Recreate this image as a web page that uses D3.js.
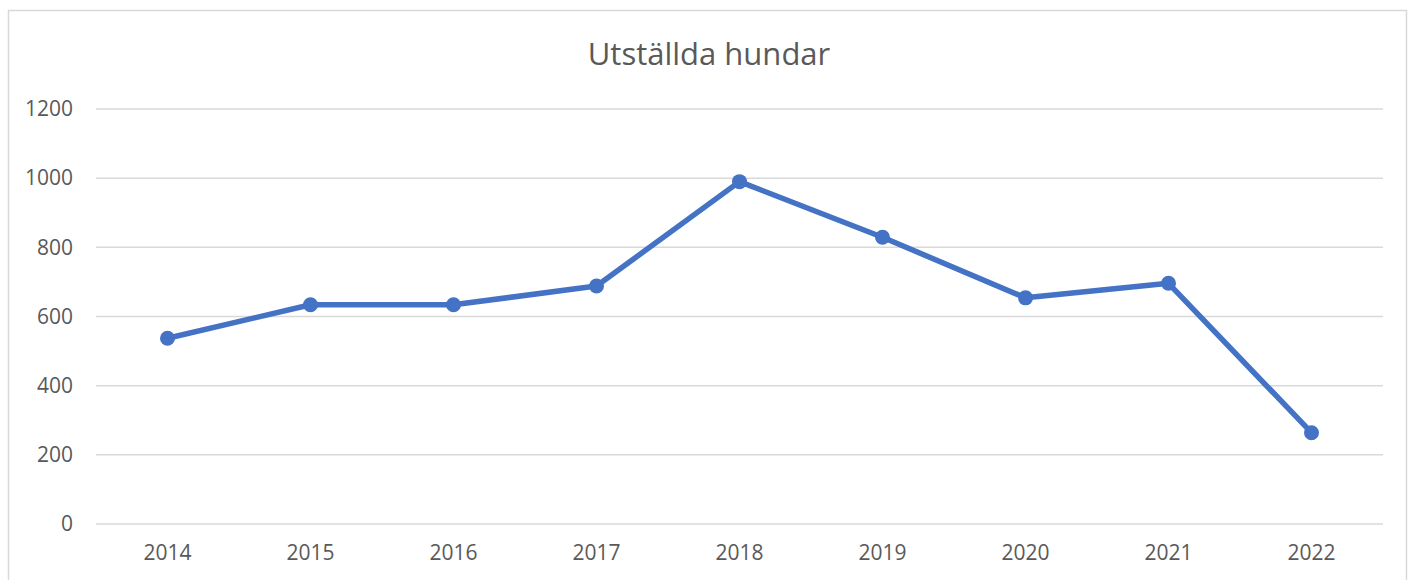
<!DOCTYPE html>
<html>
<head>
<meta charset="utf-8">
<script src="https://cdn.jsdelivr.net/npm/d3@7"></script>
<style>
  body { margin: 0; background: #fff; }
  text { font-family: "Open Sans", "Noto Sans", sans-serif; fill: #595959; }
</style>
</head>
<body>
<script>
// data
const years = ["2014", "2015", "2016", "2017", "2018", "2019", "2020", "2021", "2022"];
const dogs = [537, 634, 634, 688, 990, 829, 654, 696, 264];
const yTicks = [0, 200, 400, 600, 800, 1000, 1200];
const chartTitle = "Utställda hundar";

let margin = null, width = null, height = null;
let svg = null;
let x, y = null;

setupCanvasSize();
appendSvg("body");
setupScales();
appendGrid();
appendAxes();
appendLine();
appendTitle();

function setupCanvasSize() {
  margin = {top: 109, left: 96, bottom: 56, right: 29};
  width = 1412 - margin.left - margin.right;
  height = 580 - margin.top - margin.bottom;
}

function appendSvg(domElement) {
  const root = d3.select(domElement).append("svg")
    .attr("width", 1412)
    .attr("height", 580);
  // chart frame
  root.append("rect")
    .attr("x", 8.5).attr("y", 10.5)
    .attr("width", 1398).attr("height", 600)
    .attr("fill", "#fff")
    .attr("stroke", "#d9d9d9")
    .attr("stroke-width", 1.5);
  svg = root.append("g")
    .attr("transform", `translate(${margin.left}, ${margin.top})`);
}

function setupScales() {
  x = d3.scaleBand().range([0, width]).domain(years);
  y = d3.scaleLinear().range([height, 0]).domain([0, 1200]);
}

function appendGrid() {
  svg.append("g")
    .selectAll("line")
    .data(yTicks)
    .enter()
    .append("line")
    .attr("x1", 0).attr("x2", width)
    .attr("y1", d => y(d)).attr("y2", d => y(d))
    .attr("stroke", "#d9d9d9")
    .attr("stroke-width", 1.5);
}

function appendAxes() {
  const yAxis = svg.append("g")
    .call(d3.axisLeft(y).tickValues(yTicks).tickFormat(d3.format("d")).tickSize(0).tickPadding(23));
  yAxis.select(".domain").remove();
  yAxis.selectAll("text").style("font-size", "21px").attr("fill", "#595959");

  const xAxis = svg.append("g")
    .attr("transform", `translate(0, ${height})`)
    .call(d3.axisBottom(x).tickSize(0).tickPadding(21));
  xAxis.select(".domain").remove();
  xAxis.selectAll("text").style("font-size", "21px").attr("fill", "#595959");
}

function appendLine() {
  const line = d3.line()
    .x((d, i) => x(years[i]) + x.bandwidth() / 2)
    .y(d => y(d));

  svg.append("path")
    .datum(dogs)
    .attr("d", line)
    .attr("fill", "none")
    .attr("stroke", "#4472c4")
    .attr("stroke-width", 5.5)
    .attr("stroke-linejoin", "round");

  svg.selectAll("circle")
    .data(dogs)
    .enter()
    .append("circle")
    .attr("cx", (d, i) => x(years[i]) + x.bandwidth() / 2)
    .attr("cy", d => y(d))
    .attr("r", 7.5)
    .attr("fill", "#4472c4");
}

function appendTitle() {
  svg.append("text")
    .attr("x", 709 - margin.left)
    .attr("y", 65 - margin.top)
    .attr("text-anchor", "middle")
    .style("font-size", "31px")
    .text(chartTitle);
}
</script>
</body>
</html>
